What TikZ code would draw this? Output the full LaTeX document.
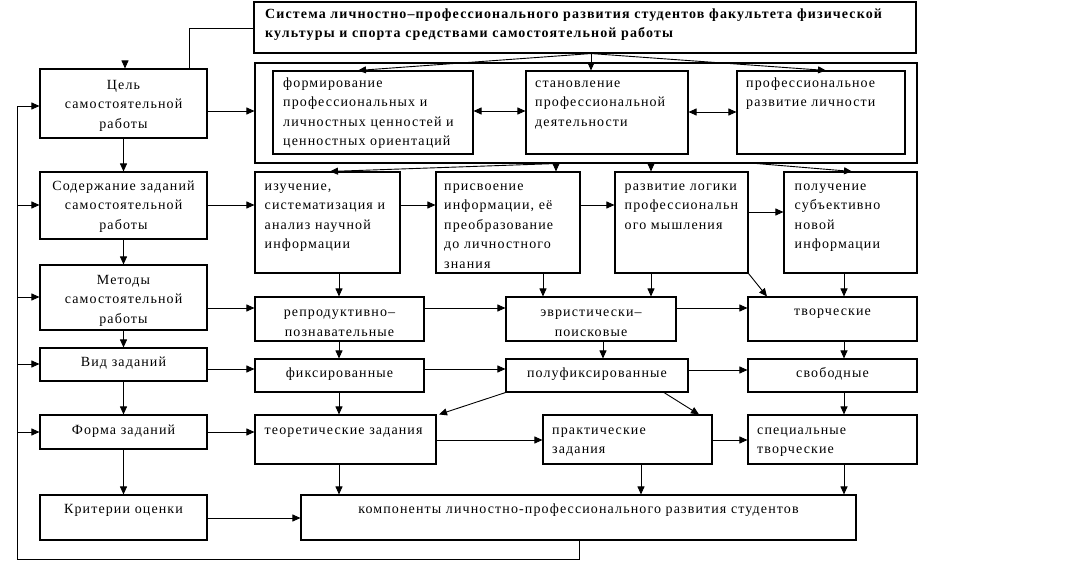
\documentclass[tikz,border=0pt]{standalone}
\usepackage{fontspec}
\setmainfont{Liberation Serif}[LetterSpace=8]
\usetikzlibrary{arrows.meta}
\tikzset{
 box/.style={draw, line width=1.1pt, inner sep=0pt, anchor=center},
 lt/.style={anchor=base west, inner sep=0pt, text width=300pt, align=left, font=\fontsize{14}{19.5}\selectfont},
 ct/.style={anchor=base, inner sep=0pt, text width=260pt, align=center, font=\fontsize{14}{19.5}\selectfont},
 arr/.style={line width=0.9pt, -{Triangle[length=8pt,width=7pt]}},
 darr/.style={line width=0.9pt, {Triangle[length=8pt,width=7pt]}-{Triangle[length=8pt,width=7pt]}},
 ln/.style={line width=0.9pt}
}
\newcommand\mkbox[5]{\node[box,minimum width={#4-#2},minimum height={#5-#3}] (#1) at ({(#2+#4)/2},{(#3+#5)/2}) {};}
\begin{document}
\begin{tikzpicture}[x=1pt,y=-1pt]
\fill[white] (0,0) rectangle (1068,568);
\useasboundingbox (0,0) rectangle (1068,568);
% boxes
\mkbox{title}{254}{2}{916}{53}
\mkbox{cont}{255}{63}{917}{163}
\mkbox{f1}{273}{71}{473}{154}
\mkbox{f2}{526}{71}{688}{154}
\mkbox{f3}{737}{71}{905}{154}
\mkbox{goal}{40}{69}{207}{138}
\mkbox{content}{40}{172}{207}{239}
\mkbox{methods}{40}{265}{207}{330}
\mkbox{kind}{40}{348}{207}{381}
\mkbox{form}{40}{415}{207}{449}
\mkbox{crit}{40}{495}{207}{540}
\mkbox{s1}{255}{172}{400}{273}
\mkbox{s2}{436}{172}{580}{273}
\mkbox{s3}{615}{172}{748}{273}
\mkbox{s4}{784}{172}{917}{273}
\mkbox{m1}{255}{297}{424}{341}
\mkbox{m2}{506}{297}{676}{341}
\mkbox{m3}{748}{297}{917}{341}
\mkbox{k1}{255}{359}{424}{392}
\mkbox{k2}{506}{359}{688}{392}
\mkbox{k3}{748}{359}{917}{392}
\mkbox{t1}{255}{415}{436}{464}
\mkbox{t2}{543}{415}{712}{464}
\mkbox{t3}{748}{415}{917}{464}
\mkbox{comp}{301}{495}{856}{540}
% texts
\node[lt, text width=700pt, font=\fontsize{14}{19}\selectfont\bfseries] (titlet) at (265,18.5) {Система личностно–профессионального развития студентов факультета физической\\культуры и спорта средствами самостоятельной работы};
\node[lt] (f1t) at (283,87) {формирование\\профессиональных и\\личностных ценностей и\\ценностных ориентаций};
\node[lt] (f2t) at (535,87) {становление\\профессиональной\\деятельности};
\node[lt] (f3t) at (746,87) {профессиональное\\развитие личности};
\node[ct] (goalt) at (123.5,89) {Цель\\самостоятельной\\работы};
\node[ct] (contentt) at (123.5,190) {Содержание заданий\\самостоятельной\\работы};
\node[ct] (methodst) at (123.5,284) {Методы\\самостоятельной\\работы};
\node[ct] (kindt) at (123.5,366) {Вид заданий};
\node[ct] (formt) at (123.5,434) {Форма заданий};
\node[ct] (critt) at (123.5,513.5) {Критерии оценки};
\node[lt] (s1t) at (264.5,190) {изучение,\\систематизация и\\анализ научной\\информации};
\node[lt] (s2t) at (444,190) {присвоение\\информации, её\\преобразование\\до личностного\\знания};
\node[lt] (s3t) at (624.5,190) {развитие логики\\профессиональн\\ого мышления};
\node[lt] (s4t) at (794.5,190) {получение\\субъективно\\новой\\информации};
\node[ct] (m1t) at (339.5,316.5) {репродуктивно–\\познавательные};
\node[ct] (m2t) at (591,316.5) {эвристически–\\поисковые};
\node[ct] (m3t) at (832.5,315) {творческие};
\node[ct] (k1t) at (339.5,377.5) {фиксированные};
\node[ct] (k2t) at (597,377.5) {полуфиксированные};
\node[ct] (k3t) at (832.5,377.5) {свободные};
\node[lt] (t1t) at (264.5,434) {теоретические задания};
\node[lt] (t2t) at (552,434) {практические\\задания};
\node[lt] (t3t) at (757,434) {специальные\\творческие};
\node[ct, text width=540pt] (compt) at (578.5,513.5) {компоненты личностно-профессионального развития студентов};
% connectors
\coordinate (tl) at (189,28);
\draw[ln] (title.west |- tl) -- (tl) -- (goal.north -| tl);
\coordinate (stub) at (125,62);
\draw[arr] (stub) -- (goal.north -| stub);
\draw[arr] (goal.east |- 0,111) -- (cont.west |- 0,111);
\draw[darr] (f1.east |- 0,111) -- (f2.west |- 0,111);
\draw[darr] (f2.east |- 0,112) -- (f3.west |- 0,112);
\draw[arr] (title.south -| 591,0) -- (f1.north -| 358,0);
\draw[arr] (title.south -| 591,0) -- (f2.north -| 591,0);
\draw[arr] (title.south -| 591,0) -- (f3.north -| 826,0);
\draw[arr] (cont.south -| 556,0) -- (s1.north -| 330,0);
\draw[arr] (cont.south -| 556,0) -- (s2.north -| 556,0);
\draw[arr] (cont.south -| 651,0) -- (s3.north -| 651,0);
\draw[arr] (cont.south -| 757,0) -- (s4.north -| 852,0);
% left column
\draw[arr] (goal) -- (content);
\draw[arr] (content) -- (methods);
\draw[arr] (methods) -- (kind);
\draw[arr] (kind) -- (form);
\draw[arr] (form) -- (crit);
% row 2
\draw[arr] (content.east |- 0,205) -- (s1.west |- 0,205);
\draw[arr] (s1.east |- 0,205) -- (s2.west |- 0,205);
\draw[arr] (s2.east |- 0,205) -- (s3.west |- 0,205);
\draw[arr] (s3.east |- 0,212) -- (s4.west |- 0,212);
% row 3
\draw[arr] (methods.east |- 0,308) -- (m1.west |- 0,308);
\draw[arr] (m1.east |- 0,308) -- (m2.west |- 0,308);
\draw[arr] (m2.east |- 0,308) -- (m3.west |- 0,308);
\draw[arr] (s1.south -| 339,0) -- (m1.north -| 339,0);
\draw[arr] (s2.south -| 543,0) -- (m2.north -| 543,0);
\draw[arr] (s3.south -| 651,0) -- (m2.north -| 651,0);
\draw[arr] (s3.south east) -- (m3.north -| 767,0);
\draw[arr] (s4.south -| 844,0) -- (m3.north -| 844,0);
% row 4
\draw[arr] (kind.east |- 0,369) -- (k1.west |- 0,369);
\draw[arr] (k1.east |- 0,369) -- (k2.west |- 0,369);
\draw[arr] (k2.east |- 0,370) -- (k3.west |- 0,370);
\draw[arr] (m1.south -| 339,0) -- (k1.north -| 339,0);
\draw[arr] (m2.south -| 603,0) -- (k2.north -| 603,0);
\draw[arr] (m3.south -| 844,0) -- (k3.north -| 844,0);
% row 5
\draw[arr] (form.east |- 0,432) -- (t1.west |- 0,432);
\draw[arr] (t1.east |- 0,440) -- (t2.west |- 0,440);
\draw[arr] (t2.east |- 0,440) -- (t3.west |- 0,440);
\draw[arr] (k1.south -| 339,0) -- (t1.north -| 339,0);
\draw[arr] (k2.south west) -- (t1.north -| 439,0);
\draw[arr] (k2.south -| 664,0) -- (t2.north -| 699,0);
\draw[arr] (k3.south -| 844,0) -- (t3.north -| 844,0);
% row 6
\draw[arr] (crit.east |- 0,518) -- (comp.west |- 0,518);
\draw[arr] (t1.south -| 339,0) -- (comp.north -| 339,0);
\draw[arr] (t2.south -| 641,0) -- (comp.north -| 641,0);
\draw[arr] (t3.south -| 844,0) -- (comp.north -| 844,0);
% feedback loop
\coordinate (fbR) at (579,559);
\coordinate (fbL) at (17,559);
\coordinate (fbT) at (17,106);
\draw[arr] (comp.south -| fbR) -- (fbR) -- (fbL) -- (fbT) -- (goal.west |- fbT);
\draw[arr] (fbL |- 0,205) -- (content.west |- 0,205);
\draw[arr] (fbL |- 0,297) -- (methods.west |- 0,297);
\draw[arr] (fbL |- 0,364) -- (kind.west |- 0,364);
\draw[arr] (fbL |- 0,432) -- (form.west |- 0,432);
\end{tikzpicture}
\end{document}
